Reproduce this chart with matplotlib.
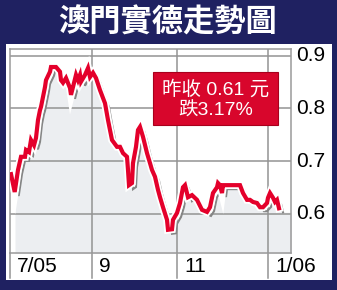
import matplotlib
matplotlib.use("Agg")
import matplotlib.pyplot as plt
from matplotlib.patches import Rectangle
from matplotlib.lines import Line2D
import matplotlib.transforms as mtransforms

# ---- data ----
title = "澳門實德走勢圖"
t = [1, 4.7, 8, 11, 15, 16, 19, 21, 24, 26, 28, 30, 31, 35, 36, 40, 41, 46, 50, 51,
     53, 56, 60, 61, 63, 66, 68, 70, 71, 75, 78, 80, 83, 86, 90, 95, 98, 102, 107, 110,
     113, 117, 118, 119, 122, 123, 126, 128, 130, 133, 137, 140, 142, 145, 148, 150, 153, 157, 158, 162,
     163, 167, 170, 173, 175, 178, 182, 187, 192, 197, 200, 203, 207, 208, 210, 212, 213, 215, 230, 233,
     237, 240, 243, 247, 250, 253, 257, 258, 260, 263, 265, 267, 269]
price = [0.675, 0.641, 0.683, 0.708, 0.708, 0.721, 0.717, 0.740, 0.730, 0.744, 0.778, 0.797, 0.803, 0.841, 0.854, 0.870, 0.879, 0.879, 0.870, 0.854,
         0.849, 0.858, 0.839, 0.826, 0.841, 0.864, 0.854, 0.864, 0.851, 0.864, 0.877, 0.860, 0.868, 0.858, 0.835, 0.810, 0.778, 0.740, 0.727, 0.727,
         0.715, 0.708, 0.683, 0.654, 0.658, 0.696, 0.727, 0.759, 0.765, 0.746, 0.715, 0.696, 0.683, 0.670, 0.645, 0.631, 0.612, 0.588, 0.569, 0.570,
         0.588, 0.601, 0.620, 0.650, 0.654, 0.631, 0.635, 0.626, 0.607, 0.603, 0.612, 0.639, 0.650, 0.658, 0.654, 0.639, 0.654, 0.654, 0.654, 0.639,
         0.626, 0.626, 0.622, 0.620, 0.612, 0.612, 0.620, 0.630, 0.639, 0.630, 0.622, 0.626, 0.61]
x_tick_pos = [0, 82, 167, 258]
x_tick_labels = ["7/05", "9", "11", "1/06"]
y_ticks = [0.6, 0.7, 0.8, 0.9]
y_tick_labels = ["0.6", "0.7", "0.8", "0.9"]
box_lines = ["昨收 0.61 元", "跌3.17%"]

W, H = 337, 290
NAVY = "#1f2161"
RED = "#e4002b"
GRID = "#939393"
FILL = "#eceef1"
LATIN = ["Liberation Sans", "Noto Sans CJK TC"]

fig = plt.figure(figsize=(W / 100, H / 100), dpi=100)
fig.patch.set_facecolor(NAVY)

# white panel
fig.patches.append(Rectangle((6 / W, 1 - 280 / H), (332 - 6) / W, (280 - 44) / H,
                             transform=fig.transFigure, facecolor="white", edgecolor="none", zorder=-5))

fig.text(168 / W, 1 - 23 / H, title, color="white", fontsize=22.5, fontweight="bold",
         family=["Noto Sans CJK TC"], ha="center", va="center")

ax_l, ax_r, ax_t, ax_b = 10, 291, 49, 253
ax = fig.add_axes([ax_l / W, 1 - ax_b / H, (ax_r - ax_l) / W, (ax_b - ax_t) / H])
ax.set_zorder(2)
ax.set_facecolor("white")
ax.set_xlim(0, 281)
ax.set_ylim(0.5248, 0.9133)
ax.set_xticks([])
ax.set_yticks([])
for s in ax.spines.values():
    s.set_color("#9a9a9a")
    s.set_linewidth(1.1)

# grid
for yv in y_ticks:
    ax.axhline(yv, color=GRID, lw=1.1, zorder=1.5)
for xv in x_tick_pos[1:]:
    ax.axvline(xv, color=GRID, lw=1.1, zorder=1.5)

# price line with shadow, halo and fill
shadow_tr = mtransforms.offset_copy(ax.transData, fig=fig, x=4, y=-4, units="dots")
tf = list(t) + [281]
pf = list(price) + [price[-1]]
ax.fill_between(tf, pf, 0.4, color=FILL, transform=shadow_tr, zorder=1, lw=0)
ax.plot(t, price, color="#858585", lw=1.5, transform=shadow_tr, zorder=3,
        solid_joinstyle="miter")
ax.plot(t, price, color="white", lw=5.6, zorder=4, solid_joinstyle="miter")
ax.plot(t, price, color=RED, lw=3.0, zorder=5, solid_joinstyle="miter")

# y labels
ytr = mtransforms.blended_transform_factory(ax.transAxes, ax.transData)
for yv, lab in zip(y_ticks, y_tick_labels):
    ax.text((296 - ax_l) / (ax_r - ax_l), yv, lab, transform=ytr, ha="left", va="center",
            fontsize=15, family=LATIN, color="black", clip_on=False)

# x tick extension lines and labels
xtr = mtransforms.blended_transform_factory(ax.transData, ax.transAxes)
ext = -(278 - ax_b) / (ax_b - ax_t)
for xv, lab in zip(x_tick_pos, x_tick_labels):
    ax.add_line(Line2D([xv, xv], [0, ext], transform=xtr, color=GRID, lw=1.1, clip_on=False))
    ltr = mtransforms.offset_copy(xtr, fig=fig, x=7, y=0, units="dots")
    ax.text(xv, -(267 - ax_b) / (ax_b - ax_t), lab, transform=ltr, ha="left", va="center",
            fontsize=15, family=LATIN, color="black", clip_on=False)

# red annotation box
bx0 = (153 - ax_l) / (ax_r - ax_l)
bx1 = (278 - ax_l) / (ax_r - ax_l)
by0 = (ax_b - 125) / (ax_b - ax_t)
by1 = (ax_b - 72) / (ax_b - ax_t)
ax.add_patch(Rectangle((bx0, by0), bx1 - bx0, by1 - by0, transform=ax.transAxes,
                       facecolor="#d8062c", edgecolor="#a8001c", lw=0.8, zorder=10))
cx = (bx0 + bx1) / 2
ax.text(cx, (ax_b - 89) / (ax_b - ax_t), box_lines[0], transform=ax.transAxes, ha="center",
        va="center", fontsize=14, family=LATIN, color="white", zorder=11)
ax.text(cx, (ax_b - 111) / (ax_b - ax_t), box_lines[1], transform=ax.transAxes, ha="center",
        va="center", fontsize=14, family=LATIN, color="white", zorder=11)

fig.savefig("out.png", dpi=100, facecolor=NAVY)
